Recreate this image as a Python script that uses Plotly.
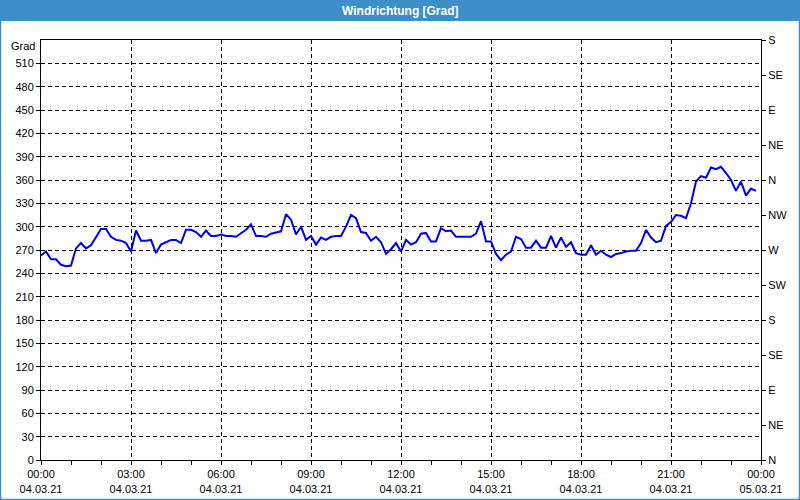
import plotly.graph_objects as go
import pandas as pd

# Wind direction every 10 minutes, 04.03.21 00:00 .. 23:50 (degrees)
wind_dir = [
    263, 268, 258, 258, 251, 249, 250, 272, 279, 272, 276, 287,
    297, 297, 287, 283, 282, 279, 268, 295, 282, 282, 283, 266,
    277, 280, 283, 283, 279, 296, 296, 293, 287, 295, 288, 288,
    290, 288, 288, 287, 292, 296, 303, 288, 288, 287, 291, 293,
    294, 316, 309, 290, 300, 283, 288, 277, 286, 283, 287, 288,
    288, 300, 315, 311, 293, 292, 282, 287, 280, 265, 271, 279,
    268, 283, 277, 280, 291, 292, 281, 281, 298, 294, 295, 287,
    287, 287, 287, 291, 307, 281, 281, 265, 257, 264, 268, 287,
    284, 273, 273, 282, 273, 273, 288, 273, 286, 274, 280, 266,
    264, 264, 276, 264, 269, 264, 261, 265, 266, 268, 269, 269,
    279, 296, 286, 280, 282, 301, 306, 315, 314, 311, 330, 358,
    365, 363, 376, 374, 377, 369, 360, 346, 358, 340, 349, 346,
]
start_time = "2021-03-04 00:00"
end_time = "2021-03-05 00:00"
times = pd.date_range(start_time, periods=len(wind_dir), freq="10min")

x_tick_vals = ["2021-03-04 00:00", "2021-03-04 03:00", "2021-03-04 06:00",
               "2021-03-04 09:00", "2021-03-04 12:00", "2021-03-04 15:00",
               "2021-03-04 18:00", "2021-03-04 21:00", "2021-03-05 00:00"]
x_tick_text = ["00:00<br>04.03.21", "03:00<br>04.03.21", "06:00<br>04.03.21",
               "09:00<br>04.03.21", "12:00<br>04.03.21", "15:00<br>04.03.21",
               "18:00<br>04.03.21", "21:00<br>04.03.21", "00:00<br>05.03.21"]
y_tick_vals = list(range(0, 511, 30))
compass_vals = list(range(0, 541, 45))
compass_text = ["N", "NE", "E", "SE", "S", "SW", "W", "NW", "N", "NE", "E", "SE", "S"]

W, H = 800, 500
ML, MR, MT, MB = 41, 39, 40, 40
PW, PH = W - ML - MR, H - MT - MB


def px(x):
    return (x - ML) / PW


def py(y):
    return (H - MB - y) / PH


FONT = "Liberation Sans, Arial, sans-serif"
BLUE = "#3d8fc7"

fig = go.Figure()
fig.add_trace(go.Scatter(x=times, y=wind_dir, mode="lines",
                         line=dict(color="#0000e6", width=2),
                         hoverinfo="x+y", showlegend=False))
fig.add_trace(go.Scatter(x=[times[0]], y=[0], yaxis="y2", mode="markers",
                         marker=dict(opacity=0), showlegend=False, hoverinfo="skip"))

fig.update_layout(
    width=W, height=H,
    margin=dict(l=ML, r=MR, t=MT, b=MB, pad=0, autoexpand=False),
    paper_bgcolor="white", plot_bgcolor="white",
    font=dict(family=FONT, size=11, color="black"),
    showlegend=False,
    xaxis=dict(
        type="date", range=[start_time, end_time], automargin=False,
        tickvals=x_tick_vals, ticktext=x_tick_text,
        ticks="outside", ticklen=4, tickcolor="black",
        showgrid=True, gridcolor="black", gridwidth=1, griddash="4px,3px",
        minor=dict(dtick=3600000, ticks="outside", ticklen=4, tickcolor="black", showgrid=False),
        showline=True, linecolor="black", linewidth=1, mirror=True,
        zeroline=False, tickfont=dict(size=11),
    ),
    yaxis=dict(
        range=[0, 540], tickvals=y_tick_vals, automargin=False,
        ticks="outside", ticklen=4, tickcolor="black",
        showgrid=True, gridcolor="black", gridwidth=1, griddash="4px,3px",
        showline=True, linecolor="black", linewidth=1, mirror=True,
        zeroline=False, tickfont=dict(size=11),
    ),
    yaxis2=dict(
        range=[0, 540], overlaying="y", side="right", automargin=False,
        tickvals=compass_vals, ticktext=compass_text,
        ticks="outside", ticklen=4, tickcolor="black",
        showgrid=False, showline=True, linecolor="black", linewidth=1,
        zeroline=False, tickfont=dict(size=11),
    ),
    shapes=[
        dict(type="rect", xref="paper", yref="paper",
             x0=px(0), x1=px(W), y0=py(21), y1=py(0),
             fillcolor=BLUE, line=dict(width=0), layer="above"),
        dict(type="rect", xref="paper", yref="paper",
             x0=px(0.5), x1=px(W - 0.5), y0=py(H - 0.5), y1=py(0.5),
             fillcolor="rgba(0,0,0,0)", line=dict(color=BLUE, width=1.5), layer="above"),
    ],
    annotations=[
        dict(text="<b>Windrichtung [Grad]</b>", xref="paper", yref="paper",
             x=px(W / 2), y=py(10.5), xanchor="center", yanchor="middle",
             showarrow=False, font=dict(family=FONT, size=12, color="white")),
        dict(text="Grad", xref="paper", yref="paper",
             x=px(37), y=py(46), xanchor="right", yanchor="middle",
             showarrow=False, font=dict(family=FONT, size=11, color="black")),
    ],
)

fig.write_html("out.html")
